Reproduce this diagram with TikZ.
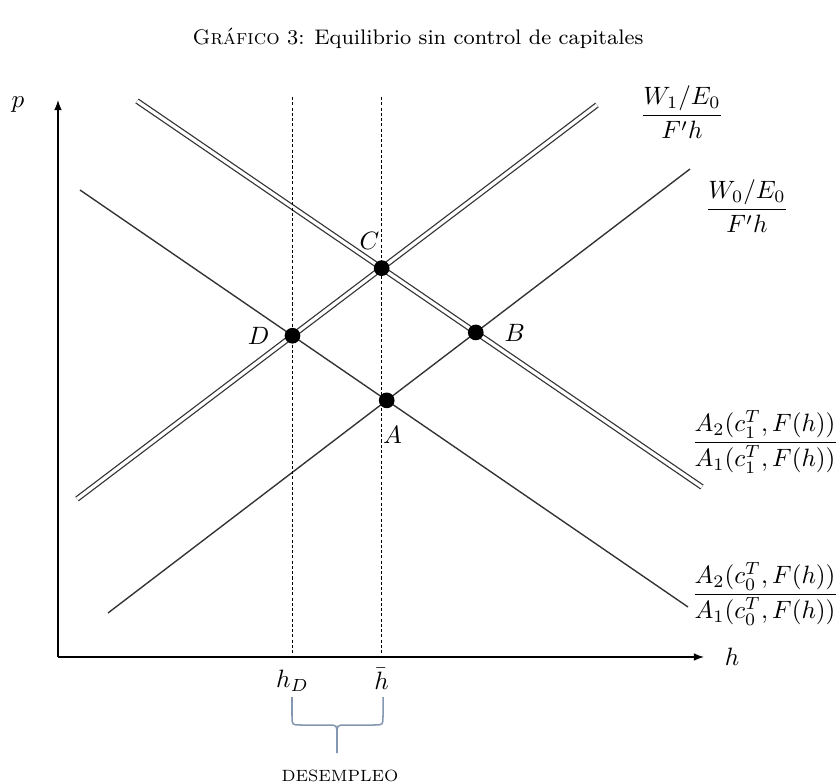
\documentclass[tikz,border=0pt]{standalone}
\usepackage{fontspec}
\usepackage{amsmath}
\usepackage{tikz}
\usetikzlibrary{arrows.meta,positioning,intersections,calc}
\definecolor{curvegray}{HTML}{333333}
\definecolor{bracegray}{HTML}{8497B0}

\begin{document}
\begin{tikzpicture}[
    x=0.014cm,y=-0.014cm,
    font=\normalsize,
    axis/.style={-{Latex[length=4pt,width=3pt]},line width=0.5pt,draw=black},
    curve/.style={line width=0.55pt,draw=curvegray},
    dcurve/.style={line width=0.5pt,draw=curvegray,double=white,double distance=1.3pt},
    guide/.style={line width=0.4pt,draw=black,dash pattern=on 1.2pt off 0.9pt},
    eqpt/.style={circle,fill=black,inner sep=0pt,minimum size=0.22cm},
    ptlabel/.style={inner sep=0pt},
    brace/.style={line width=0.6pt,draw=bracegray}
  ]
    \useasboundingbox (0,0) rectangle (836,784);
    \node (title) at (418,38) {\fontsize{8.4}{10}\selectfont\textsc{Gráfico} \oldstylenums{3}: Equilibrio sin control de capitales};

    % axes
    \coordinate (o) at (58,657);
    \coordinate (ytop) at (58,100);
    \coordinate (xend) at (704,657);
    \coordinate (gtop) at (0,97);
    \draw[axis] (o) -- (ytop);
    \draw[axis] (o) -- (xend);
    \node (p) at (18,105) {$p$};
    \node (h) at (732,657) {$h$};

    % curves
    \coordinate (w1a) at (77,499);   \coordinate (w1b) at (597,105);
    \coordinate (w0a) at (108,613);  \coordinate (w0b) at (690,169);
    \coordinate (c1a) at (137,101);  \coordinate (c1b) at (702,487);
    \coordinate (c0a) at (80,190);   \coordinate (c0b) at (688,607);
    \draw[dcurve,name path=w1] (w1a) -- (w1b);
    \draw[curve,name path=w0] (w0a) -- (w0b);
    \draw[dcurve,name path=c1] (c1a) -- (c1b);
    \draw[curve,name path=c0] (c0a) -- (c0b);

    \path[name intersections={of=w1 and c1,by=C}];
    \path[name intersections={of=w1 and c0,by=D}];
    \path[name intersections={of=w0 and c1,by=B}];
    \path[name intersections={of=w0 and c0,by=A}];

    \draw[guide] (D |- gtop) -- (D |- o);
    \draw[guide] (C |- gtop) -- (C |- o);

    \node[eqpt] (pC) at (C) {};
    \node[eqpt] (pD) at (D) {};
    \node[eqpt] (pB) at (B) {};
    \node[eqpt] (pA) at (A) {};
    \node[ptlabel,above=0.14cm of pC,xshift=-0.17cm] (lC) {$C$};
    \node[ptlabel,left=0.2cm of pD] (lD) {$D$};
    \node[ptlabel,right=0.28cm of pB] (lB) {$B$};
    \node[ptlabel,below=0.24cm of pA,xshift=0.08cm] (lA) {$A$};

    \node (fw1) at (682,112) {$\dfrac{W_1/E_0}{F'h}$};
    \node (fw0) at (747,206) {$\dfrac{W_0/E_0}{F'h}$};
    \node (fc1) at (765,442) {$\dfrac{A_2(c_1^T,F(h))}{A_1(c_1^T,F(h))}$};
    \node (fc0) at (765,594) {$\dfrac{A_2(c_0^T,F(h))}{A_1(c_0^T,F(h))}$};

    \node (hd) at ($(D |- o)+(0,24)$) {$h_D$};
    \node (hb) at ($(C |- o)+(0,22)$) {$\bar{h}$};

    % brace under the gap
    \draw[brace] (292,697) -- (292,716) .. controls (292,725) .. (301,725) -- (328,725)
      .. controls (337,725) .. (337,735) -- (337,753);
    \draw[brace] (383,697) -- (383,716) .. controls (383,725) .. (374,725) -- (346,725)
      .. controls (337,725) .. (337,735);
    \node (des) at (340,776) {\fontsize{6.5}{8}\selectfont DESEMPLEO};
  \end{tikzpicture}
\end{document}
